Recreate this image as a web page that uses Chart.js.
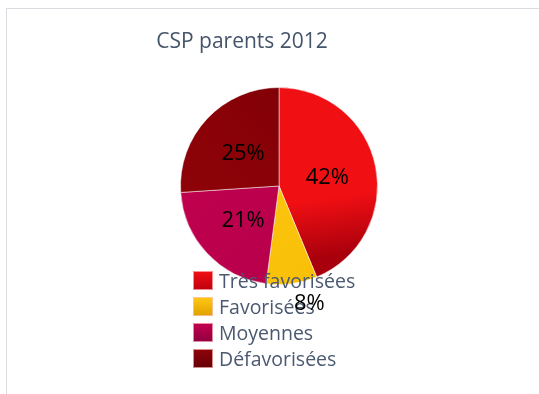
<!DOCTYPE html>
<html><head><meta charset="utf-8">
<script src="https://cdn.jsdelivr.net/npm/chart.js@4/dist/chart.umd.min.js"></script>
<style>
html,body{margin:0;padding:0;background:#fff;width:539px;height:394px;overflow:hidden}
#wrap{position:relative;width:539px;height:394px}
#frame{position:absolute;left:6px;top:8px;right:-2px;bottom:-2px;border-left:1px solid #D9DDE2;border-top:1px solid #D9DDE2}
canvas{position:absolute;left:0;top:0}
</style></head>
<body><div id="wrap"><div id="frame"></div><canvas id="c" width="539" height="394"></canvas></div>
<script>
const titleText = 'CSP parents 2012';
const categories = ['Très favorisées', 'Favorisées', 'Moyennes', 'Défavorisées'];
const values = [42, 8, 21, 25];
const valueLabels = ['42%', '8%', '21%', '25%'];
const sliceLight = ['#F00F13', '#FFC914', '#C4004F', '#8F0309'];
const sliceDark  = ['#A8000C', '#F8BE05', '#B3004A', '#780007'];
const legendDark = ['#C0000E', '#E0A000', '#900040', '#660005'];
const labelRadius = [0.5, 1.2, 0.5, 0.5];
const labelShiftX = [0, 15, 0, 0];

const FONT = '"Open Sans", "Liberation Sans", sans-serif';

function sliceFill(ctx) {
  const chart = ctx.chart;
  const a = chart.chartArea;
  const i = ctx.dataIndex;
  if (!a || i === undefined) return sliceLight[i || 0];
  let g;
  if (i === 0) {
    g = chart.ctx.createLinearGradient(a.left, a.top, a.left + 30, a.bottom);
    g.addColorStop(0, sliceLight[i]); g.addColorStop(0.66, sliceLight[i]); g.addColorStop(0.95, sliceDark[i]);
  } else if (i === 3) {
    g = chart.ctx.createLinearGradient(a.left, a.bottom, a.right, a.top);
    g.addColorStop(0, sliceLight[i]); g.addColorStop(0.5, '#8A0207'); g.addColorStop(1, sliceDark[i]);
  } else {
    g = chart.ctx.createLinearGradient(a.left, a.top, a.right, a.bottom);
    g.addColorStop(0, sliceLight[i]); g.addColorStop(1, sliceDark[i]);
  }
  return g;
}

const decor = {
  id: 'decor',
  afterDraw(chart) {
    const c = chart.ctx;
    c.save();
    // title
    c.fillStyle = '#44546A';
    c.font = '21px ' + FONT;
    c.textAlign = 'center';
    c.textBaseline = 'alphabetic';
    c.fillText(titleText, 242, 48);
    // legend
    const lx = 193, ly0 = 271, step = 26;
    categories.forEach((name, i) => {
      const y = ly0 + i * step;
      const g = c.createLinearGradient(0, y, 0, y + 19);
      g.addColorStop(0, sliceLight[i]);
      g.addColorStop(1, legendDark[i]);
      c.fillStyle = g;
      c.fillRect(lx, y, 20, 19);
      c.strokeStyle = 'rgba(255,200,200,0.7)';
      c.lineWidth = 1;
      c.strokeRect(lx + 0.5, y + 0.5, 19, 18);
      c.fillStyle = '#4A5870';
      c.font = '19.5px ' + FONT;
      c.textAlign = 'left';
      c.textBaseline = 'alphabetic';
      c.fillText(name, 219, y + 17);
    });
    // data labels
    const meta = chart.getDatasetMeta(0);
    c.fillStyle = '#000';
    c.font = '22px ' + FONT;
    c.textAlign = 'center';
    c.textBaseline = 'middle';
    meta.data.forEach((arc, i) => {
      const p = arc.getProps(['x', 'y', 'startAngle', 'endAngle', 'outerRadius'], true);
      const mid = (p.startAngle + p.endAngle) / 2;
      const r = p.outerRadius * labelRadius[i];
      c.fillText(valueLabels[i], p.x + Math.cos(mid) * r + labelShiftX[i], p.y + Math.sin(mid) * r + 1);
    });
    c.restore();
  }
};

new Chart(document.getElementById('c'), {
  type: 'pie',
  data: {
    labels: categories,
    datasets: [{
      data: values,
      backgroundColor: sliceFill,
      borderColor: 'rgba(255,255,255,0.5)',
      borderWidth: 1,
      hoverOffset: 0
    }]
  },
  options: {
    responsive: false,
    animation: false,
    layout: { padding: { left: 180, right: 161, top: 87, bottom: 109 } },
    plugins: {
      legend: { display: false },
      title: { display: false },
      tooltip: { enabled: false }
    }
  },
  plugins: [decor]
});
</script>
</body></html>
